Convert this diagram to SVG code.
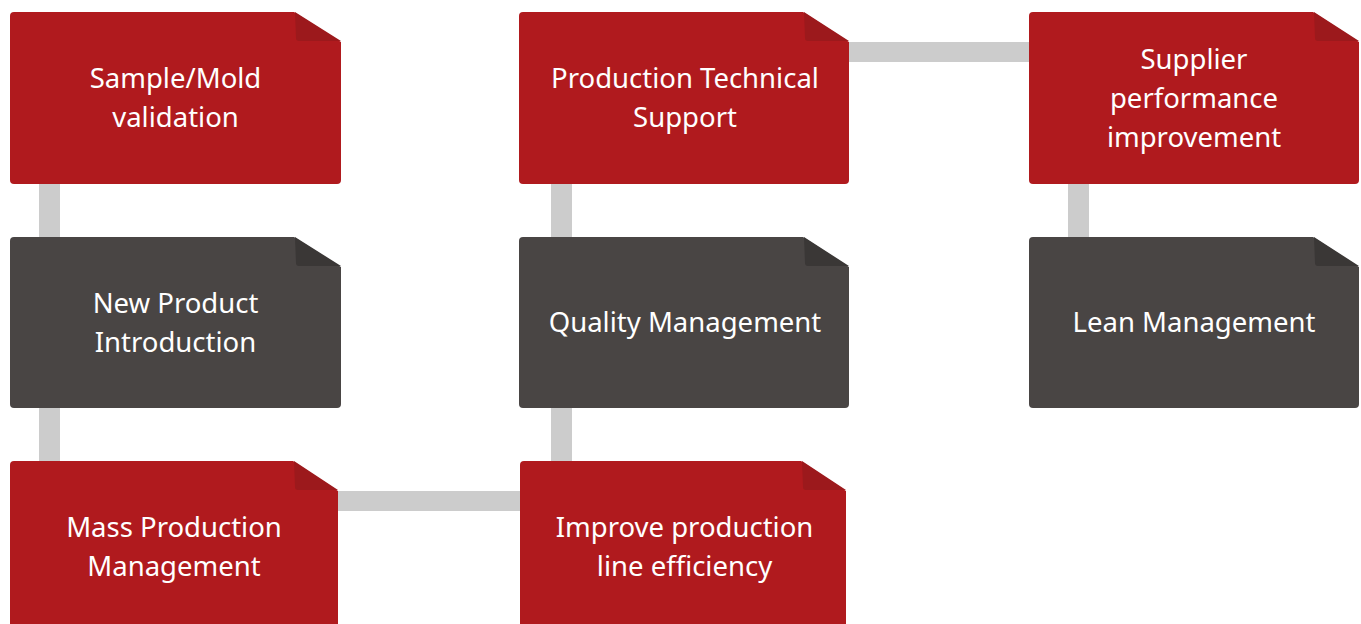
<svg xmlns="http://www.w3.org/2000/svg" width="1361" height="624" viewBox="0 0 1361 624">
<style>
.red{fill:#B01A1E}
.redf{fill:#9C191C}
.dark{fill:#494544}
.darkf{fill:#3A3736}
.conn{fill:#CCCCCC}
text{font-family:"Noto Sans","Open Sans","Liberation Sans",sans-serif;font-size:27.5px;fill:#FFFFFF;text-anchor:middle}
</style>
<rect width="1361" height="624" fill="#FFFFFF"/>
<g id="connectors">
<rect class="conn" x="39" y="180" width="21" height="62"/>
<rect class="conn" x="39" y="404" width="21" height="62"/>
<rect class="conn" x="334" y="491" width="190" height="20"/>
<rect class="conn" x="551" y="404" width="21" height="62"/>
<rect class="conn" x="551" y="180" width="21" height="62"/>
<rect class="conn" x="845" y="42" width="188" height="20"/>
<rect class="conn" x="1068" y="180" width="21" height="62"/>
</g>
<g id="n1">
<path class="red" d="M14,12 H294 L341,42 V180 Q341,184 337,184 H14 Q10,184 10,180 V16 Q10,12 14,12 Z"/>
<path class="redf" d="M295,12 L341,41 H299 Q296,41 296,38 Z"/>
<text x="175.5" y="88">Sample/Mold</text>
<text x="175.5" y="127">validation</text>
</g>
<g id="n2">
<path class="dark" d="M14,237 H294 L341,267 V404 Q341,408 337,408 H14 Q10,408 10,404 V241 Q10,237 14,237 Z"/>
<path class="darkf" d="M295,237 L341,266 H299 Q296,266 296,263 Z"/>
<text x="175.5" y="313">New Product</text>
<text x="175.5" y="352">Introduction</text>
</g>
<g id="n3">
<path class="red" d="M14,461 H293 L338,491 V630 H10 V465 Q10,461 14,461 Z"/>
<path class="redf" d="M294,461 L338,490 H298 Q295,490 295,487 Z"/>
<text x="174" y="537">Mass Production</text>
<text x="174" y="576">Management</text>
</g>
<g id="n4">
<path class="red" d="M524,461 H801 L846,491 V630 H520 V465 Q520,461 524,461 Z"/>
<path class="redf" d="M802,461 L846,490 H806 Q803,490 803,487 Z"/>
<text x="684.5" y="537">Improve production</text>
<text x="684.5" y="576">line efficiency</text>
</g>
<g id="n5">
<path class="dark" d="M523,237 H803 L849,267 V404 Q849,408 845,408 H523 Q519,408 519,404 V241 Q519,237 523,237 Z"/>
<path class="darkf" d="M804,237 L849,266 H808 Q805,266 805,263 Z"/>
<text x="685" y="332">Quality Management</text>
</g>
<g id="n6">
<path class="red" d="M523,12 H803 L849,42 V180 Q849,184 845,184 H523 Q519,184 519,180 V16 Q519,12 523,12 Z"/>
<path class="redf" d="M804,12 L849,41 H808 Q805,41 805,38 Z"/>
<text x="685" y="88">Production Technical</text>
<text x="685" y="127">Support</text>
</g>
<g id="n7">
<path class="red" d="M1033,12 H1313 L1359,42 V180 Q1359,184 1355,184 H1033 Q1029,184 1029,180 V16 Q1029,12 1033,12 Z"/>
<path class="redf" d="M1314,12 L1359,41 H1318 Q1315,41 1315,38 Z"/>
<text x="1194" y="69">Supplier</text>
<text x="1194" y="108">performance</text>
<text x="1194" y="147">improvement</text>
</g>
<g id="n8">
<path class="dark" d="M1033,237 H1313 L1359,267 V404 Q1359,408 1355,408 H1033 Q1029,408 1029,404 V241 Q1029,237 1033,237 Z"/>
<path class="darkf" d="M1314,237 L1359,266 H1318 Q1315,266 1315,263 Z"/>
<text x="1194" y="332">Lean Management</text>
</g>
</svg>
